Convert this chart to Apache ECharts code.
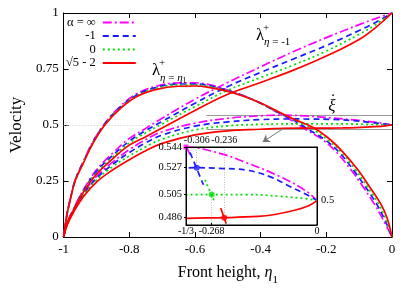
<!DOCTYPE html>
<html><head><meta charset="utf-8">
<script src="https://cdn.jsdelivr.net/npm/echarts@6/dist/echarts.min.js"></script>
<style>html,body{margin:0;padding:0;background:#fff}#c{width:415px;height:291px}</style>
</head><body><div id="c"></div>
<script>
// ---------- data ----------
const seriesNames = ['α = ∞', '-1', '0', '√5 - 2'];
const colors = ['#ff00ff', '#1a1aff', '#00e000', '#ff0000'];
const dashes = [[9, 3, 2, 3], [6, 4], [2, 3], 'solid'];

// upper arch: lambda+ at eta = eta1
const archInf = [[-1,0],[-0.99,0.1],[-0.98,0.168],[-0.965,0.255],[-0.94,0.337],[-0.91,0.428],[-0.873,0.51],[-0.83,0.58],[-0.78,0.637],[-0.72,0.672],[-0.65,0.688],[-0.6,0.688],[-0.55,0.678],[-0.5,0.656],[-0.45,0.63],[-0.4,0.597],[-0.3333,0.544],[-0.3,0.515],[-0.26,0.478],[-0.21,0.433],[-0.17,0.38],[-0.125,0.3],[-0.09,0.228],[-0.055,0.15],[-0.028,0.08],[0,0]];
const archM1 = [[-1,0],[-0.99,0.1],[-0.98,0.167],[-0.965,0.253],[-0.94,0.335],[-0.91,0.425],[-0.873,0.508],[-0.83,0.576],[-0.78,0.632],[-0.72,0.667],[-0.65,0.683],[-0.6,0.683],[-0.55,0.674],[-0.5,0.654],[-0.45,0.629],[-0.4,0.597],[-0.35,0.558],[-0.306,0.527],[-0.26,0.485],[-0.203,0.433],[-0.162,0.38],[-0.118,0.3],[-0.083,0.228],[-0.048,0.15],[-0.023,0.08],[0,0]];
const arch0 = [[-1,0],[-0.99,0.1],[-0.98,0.166],[-0.965,0.252],[-0.94,0.333],[-0.91,0.422],[-0.873,0.506],[-0.83,0.573],[-0.78,0.628],[-0.72,0.663],[-0.65,0.679],[-0.6,0.679],[-0.55,0.67],[-0.5,0.652],[-0.45,0.628],[-0.4,0.597],[-0.35,0.56],[-0.3,0.526],[-0.268,0.505],[-0.23,0.47],[-0.196,0.433],[-0.156,0.38],[-0.111,0.3],[-0.077,0.228],[-0.042,0.15],[-0.019,0.08],[0,0]];
const archR = [[-1,0],[-0.99,0.1],[-0.98,0.165],[-0.965,0.25],[-0.94,0.33],[-0.91,0.42],[-0.873,0.503],[-0.83,0.57],[-0.78,0.625],[-0.72,0.658],[-0.65,0.673],[-0.6,0.674],[-0.55,0.666],[-0.5,0.65],[-0.45,0.627],[-0.4,0.598],[-0.35,0.562],[-0.3,0.527],[-0.236,0.486],[-0.187,0.433],[-0.15,0.38],[-0.104,0.3],[-0.07,0.228],[-0.035,0.15],[-0.015,0.085],[0,0]];

// rising curves: lambda+ at eta = -1
const lamInf = [[-1,0],[-0.99,0.06],[-0.97,0.125],[-0.94,0.21],[-0.9,0.3],[-0.85,0.375],[-0.8,0.44],[-0.75,0.485],[-0.7,0.53],[-0.6,0.615],[-0.5,0.69],[-0.4,0.76],[-0.3,0.828],[-0.2,0.89],[-0.1,0.948],[-0.05,0.975],[0,1]];
const lamM1 = [[-1,0],[-0.99,0.06],[-0.97,0.123],[-0.94,0.206],[-0.9,0.292],[-0.85,0.365],[-0.8,0.428],[-0.75,0.475],[-0.7,0.516],[-0.6,0.597],[-0.5,0.672],[-0.4,0.735],[-0.3,0.795],[-0.2,0.855],[-0.1,0.922],[-0.05,0.958],[0,1]];
const lam0 = [[-1,0],[-0.99,0.06],[-0.97,0.122],[-0.94,0.203],[-0.9,0.286],[-0.85,0.358],[-0.8,0.42],[-0.75,0.465],[-0.7,0.505],[-0.6,0.582],[-0.5,0.655],[-0.4,0.712],[-0.3,0.768],[-0.2,0.83],[-0.1,0.905],[-0.05,0.948],[0,1]];
const lamR = [[-1,0],[-0.99,0.06],[-0.97,0.12],[-0.94,0.2],[-0.9,0.28],[-0.85,0.35],[-0.8,0.41],[-0.75,0.448],[-0.7,0.487],[-0.6,0.565],[-0.5,0.637],[-0.4,0.69],[-0.3,0.745],[-0.2,0.808],[-0.1,0.882],[-0.05,0.935],[0,1]];

// front speed xi-dot
const xiInf = [[-1,0],[-0.99,0.055],[-0.97,0.12],[-0.94,0.195],[-0.9,0.27],[-0.85,0.335],[-0.8,0.39],[-0.75,0.435],[-0.7,0.47],[-0.6,0.508],[-0.5,0.53],[-0.4,0.541],[-0.3333,0.544],[-0.25,0.539],[-0.179,0.531],[-0.094,0.5197],[-0.026,0.5075],[0,0.5]];
const xiM1 = [[-1,0],[-0.99,0.055],[-0.97,0.118],[-0.94,0.19],[-0.9,0.262],[-0.85,0.325],[-0.8,0.377],[-0.75,0.42],[-0.7,0.455],[-0.6,0.495],[-0.5,0.514],[-0.4,0.524],[-0.306,0.527],[-0.25,0.5265],[-0.179,0.525],[-0.12,0.5197],[-0.069,0.5116],[-0.026,0.5048],[0,0.5]];
const xi0 = [[-1,0],[-0.99,0.053],[-0.97,0.115],[-0.94,0.186],[-0.9,0.255],[-0.85,0.315],[-0.8,0.362],[-0.75,0.403],[-0.7,0.437],[-0.6,0.478],[-0.5,0.496],[-0.4,0.503],[-0.268,0.505],[-0.179,0.505],[-0.094,0.5035],[-0.026,0.5015],[0,0.5]];
const xiR = [[-1,0],[-0.99,0.05],[-0.97,0.11],[-0.94,0.18],[-0.9,0.245],[-0.85,0.3],[-0.8,0.345],[-0.75,0.385],[-0.7,0.418],[-0.6,0.456],[-0.5,0.474],[-0.4,0.481],[-0.333,0.4855],[-0.236,0.486],[-0.15,0.487],[-0.111,0.4884],[-0.052,0.4925],[-0.02,0.496],[0,0.5]];

// inset: short arch pieces and crossing points
const insetArchInf = [[-0.3333,0.544],[-0.319,0.5358]];
const insetArchM1 = [[-0.323,0.5395],[-0.289,0.513]];
const insetArch0 = [[-0.285,0.517],[-0.262,0.5]];
const insetArchR = [[-0.245,0.494],[-0.231,0.481]];
const crossX = [-1/3, -0.306, -0.268, -0.236];
const crossY = [0.544, 0.527, 0.505, 0.486];

// tick labels
const insetBottomTicks = [-1/3, -0.268, 0];
const insetBottomLabels = ['-1/3', '-0.268', '0'];
const insetTopTicks = [-0.306, -0.236];
const insetTopLabels = ['-0.306', '-0.236'];
const insetLeftTicks = [0.486, 0.505, 0.527, 0.544];
const insetLeftLabels = ['0.486', '0.505', '0.527', '0.544'];
const insetRightTicks = [0.5];
const insetRightLabels = ['0.5'];

// zoom box and arrow (data coordinates)
const boxY = [0.482, 0.5446];
const boxX = [-0.565, 0];
const arrowFrom = [-0.3333, 0.482];
const arrowTo = [-0.394, 0.424];

// ---------- chart ----------
const FONT = 'Liberation Serif';
const arches = [archInf, archM1, arch0, archR];
const lams = [lamInf, lamM1, lam0, lamR];
const xis = [xiInf, xiM1, xi0, xiR];
const insetArches = [insetArchInf, insetArchM1, insetArch0, insetArchR];

function pick(vals, labels) {
  return function (v) {
    let best = 0;
    for (let i = 1; i < vals.length; i++) if (Math.abs(vals[i] - v) < Math.abs(vals[best] - v)) best = i;
    return labels[best];
  };
}

const series = [];
function line(i, data, xi, yi, z) {
  series.push({
    name: seriesNames[i], type: 'line', xAxisIndex: xi, yAxisIndex: yi, data: data,
    symbol: 'none', showSymbol: false, smooth: 0.4, silent: true, z: z,
    lineStyle: { color: colors[i], width: 1.7, type: dashes[i] }, itemStyle: { color: colors[i] }
  });
}
// helper lines in main grid
series.push({
  type: 'lines', coordinateSystem: 'cartesian2d', xAxisIndex: 0, yAxisIndex: 0, silent: true, z: 1,
  lineStyle: { color: '#c8c8c8', width: 1, type: [1, 2], opacity: 1 },
  data: [{ coords: [[-1, 0.5], [0, 0.5]] }]
});
series.push({
  type: 'lines', coordinateSystem: 'cartesian2d', xAxisIndex: 0, yAxisIndex: 0, silent: true, z: 1,
  lineStyle: { color: '#999', width: 1, opacity: 1 },
  data: [{ coords: [[boxX[0], boxY[0]], [boxX[1], boxY[0]]] }, { coords: [[boxX[0], boxY[1]], [boxX[1], boxY[1]]] }]
});
series.push({
  type: 'lines', coordinateSystem: 'cartesian2d', xAxisIndex: 0, yAxisIndex: 0, silent: true, z: 3,
  symbol: ['none', 'arrow'], symbolSize: 7,
  lineStyle: { color: '#777', width: 1, opacity: 1 },
  data: [{ coords: [arrowFrom, arrowTo] }]
});
for (let i = 0; i < 4; i++) { line(i, arches[i], 0, 0, 2); line(i, lams[i], 0, 0, 2); line(i, xis[i], 0, 0, 2); }
// inset
for (let i = 0; i < 4; i++) { line(i, xis[i], 2, 2, 7); line(i, insetArches[i], 2, 2, 7); }
series.push({
  type: 'lines', coordinateSystem: 'cartesian2d', xAxisIndex: 2, yAxisIndex: 2, silent: true, z: 6,
  lineStyle: { color: '#aaa', width: 0.8, type: [1, 1.5], opacity: 1 },
  data: [
    { coords: [[crossX[1], 0.544], [crossX[1], crossY[1]]] },
    { coords: [[crossX[2], crossY[2]], [crossX[2], 0.48]] },
    { coords: [[crossX[3], 0.544], [crossX[3], crossY[3]]] }
  ]
});
for (let i = 0; i < 4; i++) {
  series.push({
    type: 'scatter', xAxisIndex: 2, yAxisIndex: 2, silent: true, z: 8,
    symbol: i === 0 ? 'rect' : 'circle', symbolSize: i === 0 ? 5 : 6,
    itemStyle: { color: colors[i] }, data: [[crossX[i], crossY[i]]]
  });
}

const axisLine = { show: true, onZero: false, lineStyle: { color: '#000', width: 1 } };
const lab = (fs) => ({ color: '#000', fontFamily: FONT, fontSize: fs });

const option = {
  animation: false,
  backgroundColor: '#fff',
  grid: [
    { left: 52, top: 13, width: 340, height: 224, containLabel: false },
    { left: 186, top: 147, width: 131, height: 78, show: true, backgroundColor: '#fff', borderColor: '#000', borderWidth: 1, z: 5 }
  ],
  legend: {
    data: seriesNames, orient: 'vertical', align: 'right', left: 66, top: 16, padding: 0,
    itemWidth: 33, itemHeight: 10, itemGap: 0.5, selectedMode: false,
    itemStyle: { opacity: 0 },
    textStyle: Object.assign(lab(12.5), { lineHeight: 12, padding: [0, 2, 0, 0] })
  },
  xAxis: [
    { gridIndex: 0, type: 'value', min: -1, max: 0, interval: 0.2, position: 'bottom', axisLine,
      axisTick: { inside: true, length: 5, lineStyle: { color: '#000' } },
      axisLabel: Object.assign(lab(13), { margin: 6 }), splitLine: { show: false },
      name: '{n|Front height, }{e|η}{s|1}', nameLocation: 'middle', nameGap: 22,
      nameTextStyle: { color: '#000', fontFamily: FONT, fontSize: 16,
        rich: { n: { fontFamily: FONT, fontSize: 16, color: '#000' },
                e: { fontFamily: FONT, fontSize: 16, fontStyle: 'italic', color: '#000' },
                s: { fontFamily: FONT, fontSize: 11, color: '#000', padding: [16, 0, 0, 0] } } } },
    { gridIndex: 0, type: 'value', min: -1, max: 0, interval: 0.2, position: 'top', axisLine,
      axisTick: { inside: true, length: 5, lineStyle: { color: '#000' } },
      axisLabel: { show: false }, splitLine: { show: false } },
    { gridIndex: 1, type: 'value', min: -1/3, max: 0, position: 'bottom', axisLine, z: 9,
      axisTick: { show: true, inside: true, length: 2, customValues: insetBottomTicks, lineStyle: { color: '#000' } },
      axisLabel: Object.assign(lab(10), { margin: 1, customValues: insetBottomTicks, formatter: pick(insetBottomTicks, insetBottomLabels), showMinLabel: true, showMaxLabel: true, hideOverlap: false }),
      splitLine: { show: false } },
    { gridIndex: 1, type: 'value', min: -1/3, max: 0, position: 'top', axisLine, z: 9,
      axisTick: { show: false },
      axisLabel: Object.assign(lab(10), { margin: 2, customValues: insetTopTicks, formatter: pick(insetTopTicks, insetTopLabels), showMinLabel: true, showMaxLabel: true, hideOverlap: false }),
      splitLine: { show: false } }
  ],
  yAxis: [
    { gridIndex: 0, type: 'value', min: 0, max: 1, interval: 0.25, position: 'left', axisLine,
      axisTick: { inside: true, length: 5, lineStyle: { color: '#000' } },
      axisLabel: Object.assign(lab(13), { margin: 5 }), splitLine: { show: false },
      name: 'Velocity', nameLocation: 'middle', nameGap: 29,
      nameTextStyle: { color: '#000', fontFamily: FONT, fontSize: 17 } },
    { gridIndex: 0, type: 'value', min: 0, max: 1, interval: 0.25, position: 'right', axisLine,
      axisTick: { inside: true, length: 5, lineStyle: { color: '#000' } },
      axisLabel: { show: false }, splitLine: { show: false } },
    { gridIndex: 1, type: 'value', min: 0.48, max: 0.544, position: 'left', axisLine, z: 9,
      axisTick: { show: true, inside: false, length: 2, customValues: insetLeftTicks, lineStyle: { color: '#000' } },
      axisLabel: Object.assign(lab(10.5), { margin: 4, customValues: insetLeftTicks, formatter: pick(insetLeftTicks, insetLeftLabels), showMinLabel: true, showMaxLabel: true }),
      splitLine: { show: false } },
    { gridIndex: 1, type: 'value', min: 0.48, max: 0.544, position: 'right', axisLine, z: 9,
      axisTick: { show: false },
      axisLabel: Object.assign(lab(10.5), { margin: 4, customValues: insetRightTicks, formatter: pick(insetRightTicks, insetRightLabels) }),
      splitLine: { show: false } }
  ],
  graphic: [
    { type: 'text', x: 156, y: 71, z: 20, style: { text: 'λ', font: '17px "Liberation Serif"', fill: '#000', align: 'center', verticalAlign: 'middle' } },
    { type: 'text', x: 162, y: 63, z: 20, style: { text: '+', font: '11px "Liberation Serif"', fill: '#000', align: 'center', verticalAlign: 'middle' } },
    { type: 'text', x: 160, y: 78, z: 20, style: { text: '{e|η} = {e|η}{s|1}', font: '11px "Liberation Serif"', fill: '#000', align: 'left', verticalAlign: 'middle',
        rich: { e: { font: 'italic 11px "Liberation Serif"', fill: '#000' }, s: { font: '8px "Liberation Serif"', fill: '#000', padding: [6, 0, 0, 0] } } } },
    { type: 'text', x: 260, y: 36, z: 20, style: { text: 'λ', font: '17px "Liberation Serif"', fill: '#000', align: 'center', verticalAlign: 'middle' } },
    { type: 'text', x: 266, y: 28, z: 20, style: { text: '+', font: '11px "Liberation Serif"', fill: '#000', align: 'center', verticalAlign: 'middle' } },
    { type: 'text', x: 264, y: 42, z: 20, style: { text: '{e|η} = -1', font: '11px "Liberation Serif"', fill: '#000', align: 'left', verticalAlign: 'middle',
        rich: { e: { font: 'italic 11px "Liberation Serif"', fill: '#000' } } } },
    { type: 'text', x: 332, y: 107, z: 20, style: { text: 'ξ', font: 'italic 17px "Liberation Serif"', fill: '#000', align: 'center', verticalAlign: 'middle' } },
    { type: 'text', x: 333, y: 101, z: 20, style: { text: '˙', font: '17px "Liberation Serif"', fill: '#000', align: 'center', verticalAlign: 'middle' } }
  ],
  series: series
};
const chart = echarts.init(document.getElementById('c'), null, { renderer: 'canvas' });
chart.setOption(option);
</script></body></html>
